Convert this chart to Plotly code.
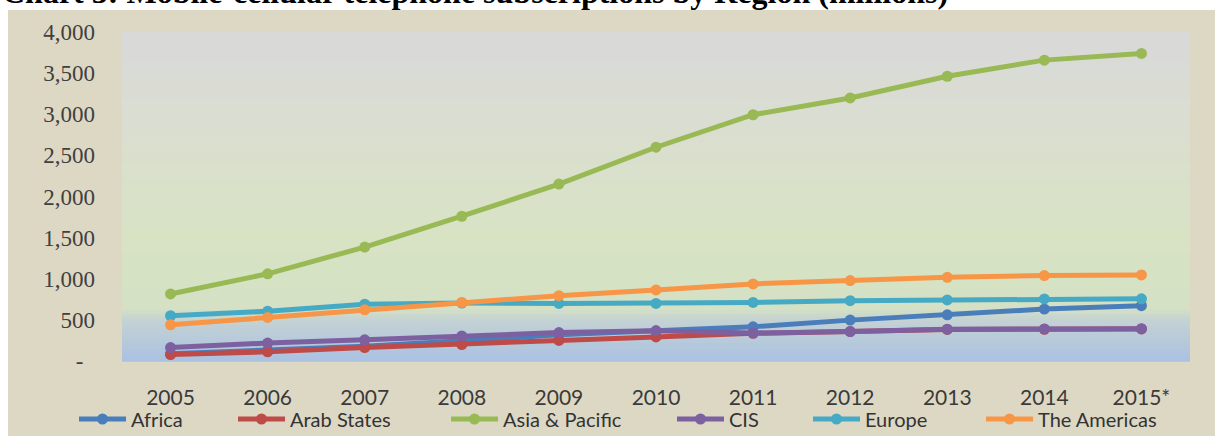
import plotly.graph_objects as go

# ---------------- data (millions) ----------------
years = ["2005", "2006", "2007", "2008", "2009", "2010", "2011", "2012", "2013", "2014", "2015*"]
africa = [87, 130, 178, 246, 318, 367, 415, 497, 562, 632, 672]
arab_states = [78, 112, 163, 200, 250, 293, 336, 360, 384, 386, 390]
asia_pacific = [815, 1060, 1385, 1760, 2151, 2599, 2994, 3198, 3462, 3658, 3739]
cis = [163, 218, 257, 305, 346, 367, 340, 358, 387, 390, 392]
europe = [550, 605, 690, 705, 700, 700, 712, 733, 742, 754, 756]
americas = [440, 530, 623, 712, 794, 864, 937, 978, 1018, 1039, 1047]

series_names = ["Africa", "Arab States", "Asia & Pacific", "CIS", "Europe", "The Americas"]
series_values = [africa, arab_states, asia_pacific, cis, europe, americas]
series_colors = ["#4a7ebb", "#be4b48", "#98b954", "#7d60a0", "#46aac5", "#f79646"]

y_tickvals = [0, 500, 1000, 1500, 2000, 2500, 3000, 3500, 4000]
y_ticktext = ["-\u00a0\u00a0", "500", "1,000", "1,500", "2,000", "2,500", "3,000", "3,500", "4,000"]

title_text = "Chart 3: Mobile-cellular telephone subscriptions by Region (millions)"

# ---------------- geometry (px) ----------------
W, H = 1215, 436
L, R, T, B = 122, 25, 32, 75
PW, PH = W - L - R, H - T - B

def px_x(px):
    return (px - L) / PW

def px_y(py):
    return (H - B - py) / PH

# legend symbol start positions (px) and vertical centre
legend_x_px = [74, 233, 446, 672, 808, 981]
legend_y_px = 419

fig = go.Figure()
for i, (name, vals, col) in enumerate(zip(series_names, series_values, series_colors)):
    fig.add_trace(go.Scatter(
        x=years, y=vals, name=name, mode="lines+markers",
        line=dict(color=col, width=5),
        marker=dict(color=col, size=11),
        legend="legend" if i == 0 else f"legend{i+1}",
    ))

# ---------------- background shapes ----------------
shapes = []
# beige chart area
shapes.append(dict(type="rect", xref="paper", yref="paper", layer="below",
                   x0=px_x(8), x1=px_x(W + 5), y0=px_y(H + 5), y1=px_y(10),
                   fillcolor="#ddd8c4", line=dict(width=0)))

# vertical gradient for plot area
stops = [(0.0, (217, 217, 217)), (0.30, (218, 222, 208)), (0.62, (216, 227, 196)),
         (0.84, (212, 225, 196)), (0.875, (196, 210, 212)), (1.0, (170, 194, 226))]

def grad(t):
    for (t0, c0), (t1, c1) in zip(stops[:-1], stops[1:]):
        if t0 <= t <= t1:
            f = (t - t0) / (t1 - t0) if t1 > t0 else 0
            return tuple(round(a + (b - a) * f) for a, b in zip(c0, c1))
    return stops[-1][1]

N = 110
for k in range(N):
    t = (k + 0.5) / N
    r, g, b = grad(t)
    shapes.append(dict(type="rect", xref="paper", yref="paper", layer="below",
                       x0=0, x1=1, y0=1 - (k + 1) / N - 0.002, y1=1 - k / N,
                       fillcolor=f"rgb({r},{g},{b})", line=dict(width=0)))

layout_legends = {}
for i, xp in enumerate(legend_x_px):
    key = "legend" if i == 0 else f"legend{i+1}"
    layout_legends[key] = dict(
        x=xp / W, y=1 - legend_y_px / H, xref="container", yref="container",
        xanchor="left", yanchor="middle", bgcolor="rgba(0,0,0,0)",
        font=dict(family="Lato", size=20, color="#333333"),
        itemwidth=47, borderwidth=0,
    )

fig.update_layout(
    width=W, height=H,
    margin=dict(l=L, r=R, t=T, b=B, pad=0, autoexpand=False),
    paper_bgcolor="white",
    plot_bgcolor="rgba(0,0,0,0)",
    shapes=shapes,
    showlegend=True,
    **layout_legends,
    xaxis=dict(type="category", range=[-0.5, 10.5], showgrid=False, zeroline=False,
               showline=False, ticks="", ticklabelstandoff=22, automargin=False,
               tickfont=dict(family="Lato", size=21, color="#3a3a3a")),
    yaxis=dict(range=[0, 4000], showgrid=False, zeroline=False, showline=False,
               ticks="", tickvals=y_tickvals, ticktext=y_ticktext, ticklabelstandoff=26,
               automargin=False,
               tickfont=dict(family="Liberation Serif", size=23, color="#404040")),
    annotations=[dict(text="<b>" + title_text + "</b>", xref="paper", yref="paper",
                      x=px_x(0), y=px_y(12), xanchor="left", yanchor="bottom",
                      showarrow=False,
                      font=dict(family="Liberation Serif", size=32, color="black"))],
)

fig.write_html("out.html")
